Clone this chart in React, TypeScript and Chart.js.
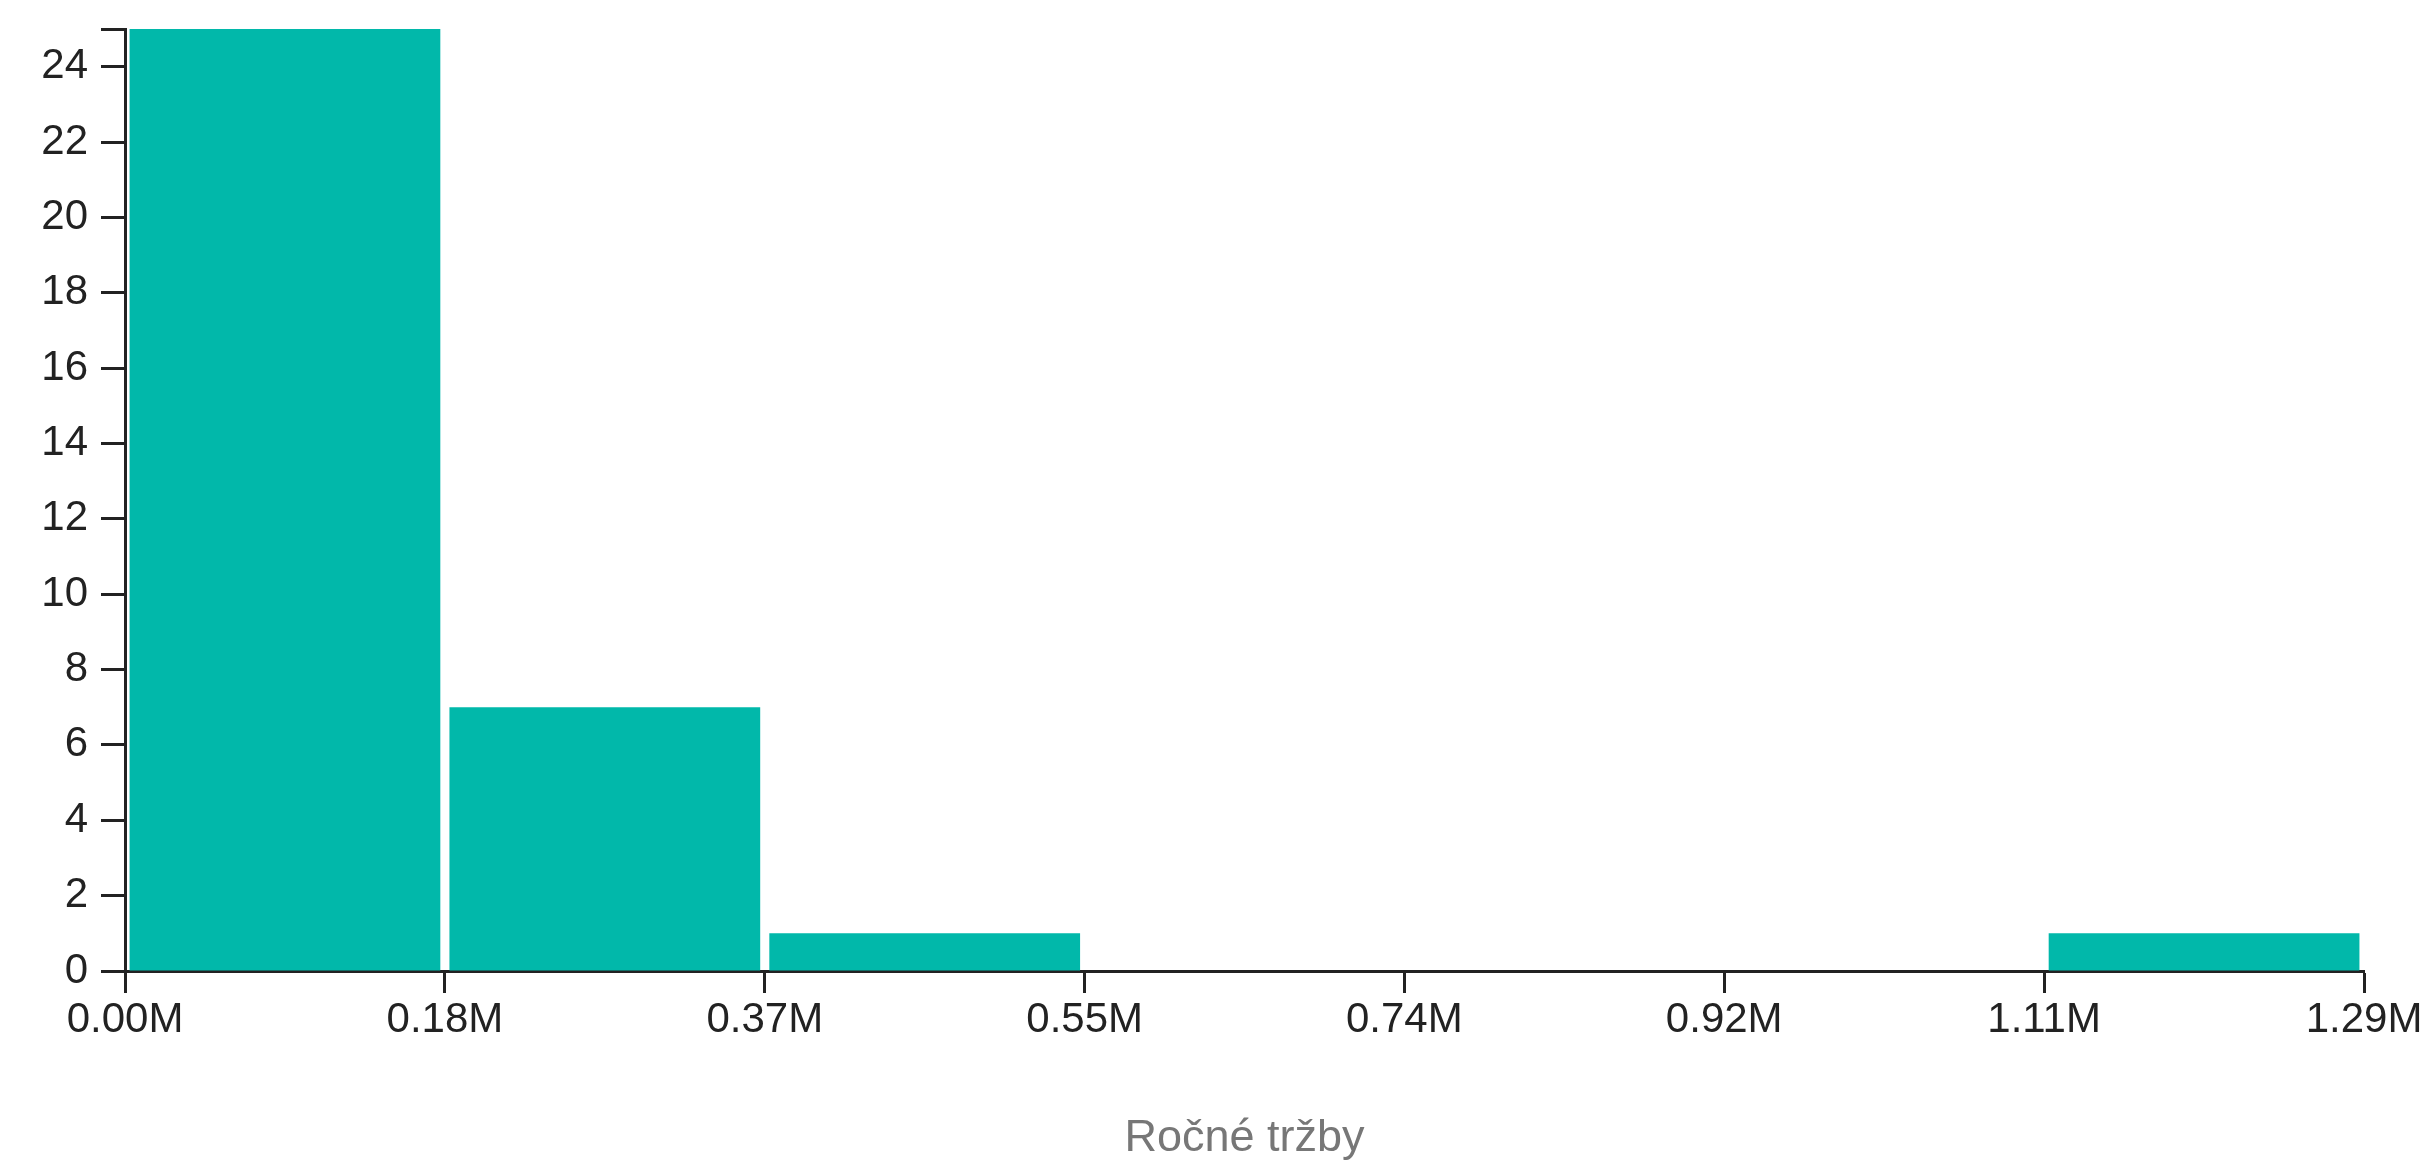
import { useEffect, useRef } from "react";
import { Chart, registerables } from "chart.js";

Chart.register(...registerables);

// ---- data ----
const binEdges = [0, 0.1843, 0.3686, 0.5529, 0.7371, 0.9214, 1.1057, 1.29];
const binCounts = [25, 7, 1, 0, 0, 0, 1];
const xTickLabels = ["0.00M", "0.18M", "0.37M", "0.55M", "0.74M", "0.92M", "1.11M", "1.29M"];
const yTickValues = [0, 2, 4, 6, 8, 10, 12, 14, 16, 18, 20, 22, 24, 25];
const yTickLabels = ["0", "2", "4", "6", "8", "10", "12", "14", "16", "18", "20", "22", "24", ""];
const xAxisTitle = "Ročné tržby";

const FONT = "'Liberation Sans', Arial, Helvetica, sans-serif";

export default function App() {
  const ref = useRef<HTMLCanvasElement | null>(null);

  useEffect(() => {
    if (!ref.current) return;
    const points = binCounts.map((c, i) => ({ x: (binEdges[i] + binEdges[i + 1]) / 2, y: c }));
    const chart = new Chart(ref.current, {
      type: "bar",
      data: {
        datasets: [
          {
            data: points,
            backgroundColor: "#01B8AA",
            borderWidth: 0,
            categoryPercentage: 1,
            barPercentage: 0.972,
          },
        ],
      },
      options: {
        responsive: false,
        animation: false,
        layout: { padding: { top: 29, right: 68, left: 0, bottom: 0 } },
        plugins: { legend: { display: false }, tooltip: { enabled: false } },
        scales: {
          x: {
            type: "linear",
            min: binEdges[0],
            max: binEdges[binEdges.length - 1],
            offset: false,
            afterBuildTicks: (s: any) => {
              s.ticks = binEdges.map((v) => ({ value: v }));
            },
            afterFit: (s: any) => {
              s.height = 196;
            },
            ticks: {
              autoSkip: false,
              maxRotation: 0,
              minRotation: 0,
              padding: 2,
              color: "#222222",
              font: { family: FONT, size: 42 },
              callback: (v: any) => {
                const i = binEdges.indexOf(Number(v));
                return i >= 0 ? xTickLabels[i] : "";
              },
            },
            grid: {
              offset: false,
              drawOnChartArea: false,
              drawTicks: true,
              tickLength: 22,
              tickWidth: 3,
              tickColor: "#222222",
              color: "#222222",
            },
            border: { display: true, color: "#222222", width: 3 },
            title: {
              display: true,
              text: xAxisTitle,
              color: "#777777",
              font: { family: FONT, size: 45 },
              padding: { top: 0, bottom: 1 },
            },
          },
          y: {
            min: 0,
            max: 25,
            afterBuildTicks: (s: any) => {
              s.ticks = yTickValues.map((v) => ({ value: v }));
            },
            afterFit: (s: any) => {
              s.width = 125;
              s.paddingTop = 0;
              s.paddingBottom = 0;
            },
            ticks: {
              autoSkip: false,
              padding: 13,
              color: "#222222",
              font: { family: FONT, size: 42 },
              callback: (v: any) => {
                const i = yTickValues.indexOf(Number(v));
                return i >= 0 ? yTickLabels[i] : "";
              },
            },
            grid: {
              drawOnChartArea: false,
              drawTicks: true,
              tickLength: 24,
              tickWidth: 3,
              tickColor: "#222222",
              color: "#222222",
            },
            border: { display: true, color: "#222222", width: 3 },
          },
        },
      },
    } as any);
    return () => chart.destroy();
  }, []);

  return (
    <div style={{ position: "absolute", left: 0, top: 0, width: 2432, height: 1167, background: "#ffffff" }}>
      <canvas ref={ref} width={2432} height={1167} style={{ display: "block" }} />
    </div>
  );
}
